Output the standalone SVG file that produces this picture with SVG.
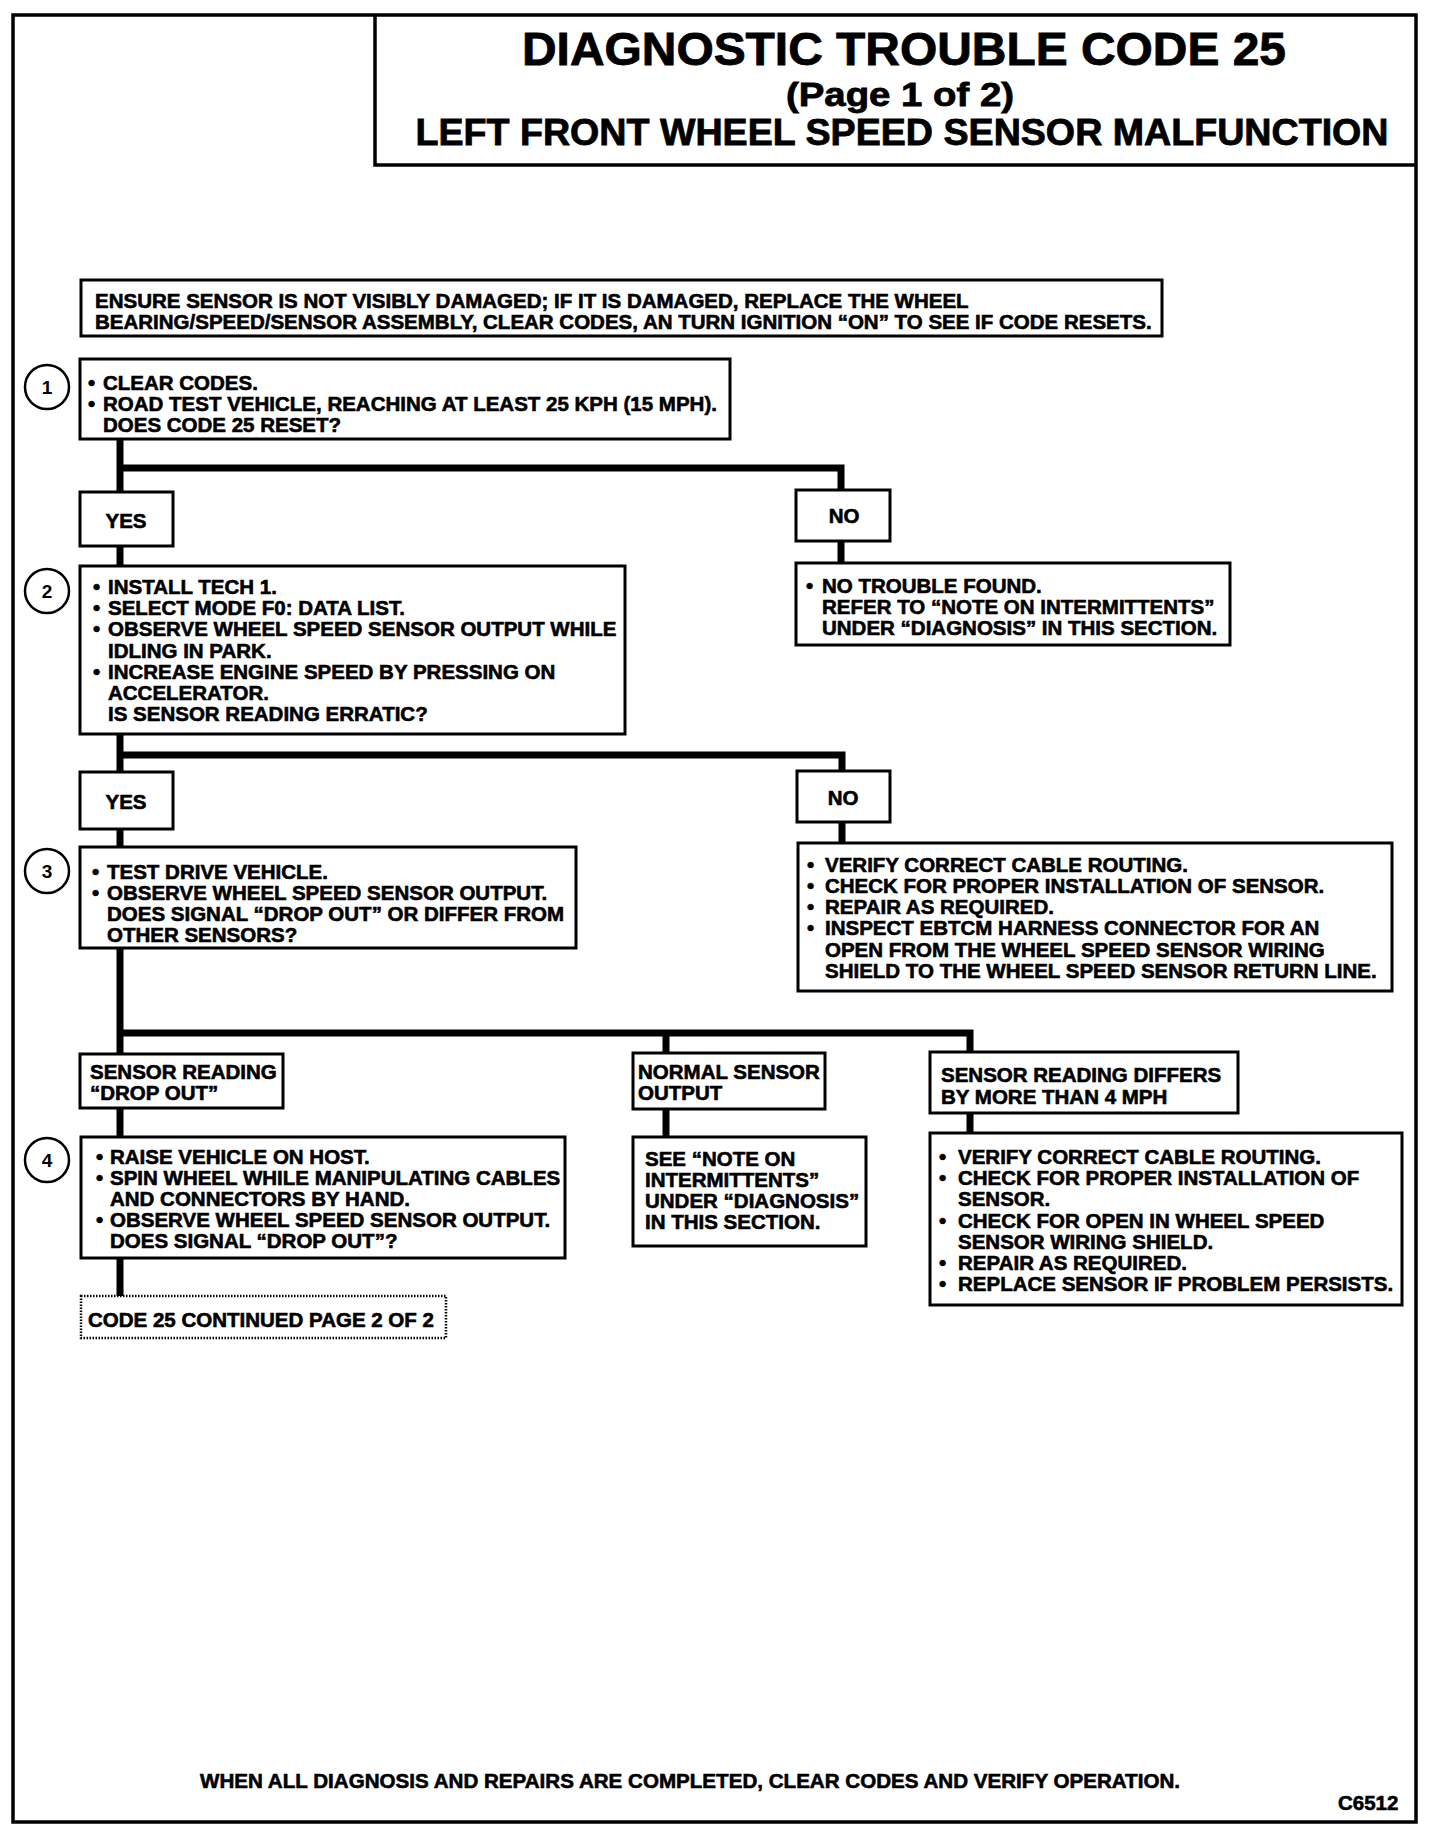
<svg xmlns="http://www.w3.org/2000/svg" width="1456" height="1844" viewBox="0 0 1456 1844">
<style>
.bg{fill:#fff}
.box{fill:#fff;stroke:#000;stroke-width:3}
.dot{fill:#fff;stroke:#000;stroke-width:2.5;stroke-dasharray:1.5 1.5}
.circ{fill:#fff;stroke:#000;stroke-width:2.5}
.conn{fill:none;stroke:#000;stroke-width:7;stroke-linejoin:miter;stroke-linecap:butt}
.frame{fill:none;stroke:#000;stroke-width:3.5}
.t{font-family:"Liberation Sans",Arial,sans-serif;font-weight:bold;font-size:20.5px;fill:#000;stroke:#000;stroke-width:0.6}
.num{font-family:"Liberation Sans",Arial,sans-serif;font-weight:bold;font-size:19px;fill:#000;text-anchor:middle}
.h{font-family:"Liberation Sans",Arial,sans-serif;font-weight:bold;fill:#000;text-anchor:middle;stroke:#000;stroke-width:0.8}
</style>
<rect class="bg" x="0" y="0" width="1456" height="1844"/>
<g id="frame">
<rect class="frame" x="13" y="15" width="1403" height="1807"/>
<path class="frame" d="M375 15 V165 H1416"/>
</g>
<g id="title">
<text class="h" x="904" y="65" font-size="46" textLength="764" lengthAdjust="spacingAndGlyphs">DIAGNOSTIC TROUBLE CODE 25</text>
<text class="h" x="900" y="106" font-size="34" textLength="228" lengthAdjust="spacingAndGlyphs">(Page 1 of 2)</text>
<text class="h" x="902" y="145" font-size="37" textLength="973" lengthAdjust="spacingAndGlyphs">LEFT FRONT WHEEL SPEED SENSOR MALFUNCTION</text>
</g>
<g id="connectors">
<path class="conn" d="M120 440 V492"/>
<path class="conn" d="M120 468 H841 V490"/>
<path class="conn" d="M120 546 V566"/>
<path class="conn" d="M841 541 V563"/>
<path class="conn" d="M120 734 V772"/>
<path class="conn" d="M120 755 H842 V771"/>
<path class="conn" d="M120 829 V847"/>
<path class="conn" d="M842 822 V843"/>
<path class="conn" d="M120 948 V1054"/>
<path class="conn" d="M120 1033 H970 V1052"/>
<path class="conn" d="M666 1033 V1053"/>
<path class="conn" d="M120 1108 V1137"/>
<path class="conn" d="M666 1109 V1137"/>
<path class="conn" d="M970 1113 V1133"/>
<path class="conn" d="M120 1258 V1296"/>
</g>
<g id="ensure">
<rect class="box" x="81" y="280" width="1081" height="56"/>
<text class="t" x="95" y="308">ENSURE SENSOR IS NOT VISIBLY DAMAGED; IF IT IS DAMAGED, REPLACE THE WHEEL</text>
<text class="t" x="95" y="329">BEARING/SPEED/SENSOR ASSEMBLY, CLEAR CODES, AN TURN IGNITION “ON” TO SEE IF CODE RESETS.</text>
</g>
<g id="step1">
<circle class="circ" cx="47" cy="387" r="22"/>
<text class="num" x="47" y="394">1</text>
<rect class="box" x="80" y="359" width="650" height="80"/>
<text class="t" x="88" y="390">•<tspan x="103">CLEAR CODES.</tspan></text>
<text class="t" x="88" y="411">•<tspan x="103">ROAD TEST VEHICLE, REACHING AT LEAST 25 KPH (15 MPH).</tspan></text>
<text class="t" x="103" y="432">DOES CODE 25 RESET?</text>
</g>
<g id="yes1">
<rect class="box" x="80" y="492" width="93" height="54"/>
<text class="t" x="126" y="528" text-anchor="middle">YES</text>
</g>
<g id="no1">
<rect class="box" x="796" y="490" width="94" height="51"/>
<text class="t" x="844" y="523" text-anchor="middle">NO</text>
</g>
<g id="notrouble">
<rect class="box" x="796" y="563" width="434" height="82"/>
<text class="t" x="806" y="593">•<tspan x="822">NO TROUBLE FOUND.</tspan></text>
<text class="t" x="822" y="614">REFER TO “NOTE ON INTERMITTENTS”</text>
<text class="t" x="822" y="635">UNDER “DIAGNOSIS” IN THIS SECTION.</text>
</g>
<g id="step2">
<circle class="circ" cx="47" cy="591" r="22"/>
<text class="num" x="47" y="598">2</text>
<rect class="box" x="80" y="566" width="545" height="168"/>
<text class="t" x="93" y="594">•<tspan x="108">INSTALL TECH 1.</tspan></text>
<text class="t" x="93" y="615">•<tspan x="108">SELECT MODE F0: DATA LIST.</tspan></text>
<text class="t" x="93" y="636">•<tspan x="108">OBSERVE WHEEL SPEED SENSOR OUTPUT WHILE</tspan></text>
<text class="t" x="108" y="658">IDLING IN PARK.</text>
<text class="t" x="93" y="679">•<tspan x="108">INCREASE ENGINE SPEED BY PRESSING ON</tspan></text>
<text class="t" x="108" y="700">ACCELERATOR.</text>
<text class="t" x="108" y="721">IS SENSOR READING ERRATIC?</text>
</g>
<g id="yes2">
<rect class="box" x="80" y="772" width="93" height="57"/>
<text class="t" x="126" y="809" text-anchor="middle">YES</text>
</g>
<g id="no2">
<rect class="box" x="797" y="771" width="93" height="51"/>
<text class="t" x="843" y="805" text-anchor="middle">NO</text>
</g>
<g id="step3">
<circle class="circ" cx="47" cy="871" r="22"/>
<text class="num" x="47" y="878">3</text>
<rect class="box" x="80" y="847" width="496" height="101"/>
<text class="t" x="92" y="879">•<tspan x="107">TEST DRIVE VEHICLE.</tspan></text>
<text class="t" x="92" y="900">•<tspan x="107">OBSERVE WHEEL SPEED SENSOR OUTPUT.</tspan></text>
<text class="t" x="107" y="921">DOES SIGNAL “DROP OUT” OR DIFFER FROM</text>
<text class="t" x="107" y="942">OTHER SENSORS?</text>
</g>
<g id="cablecheck">
<rect class="box" x="798" y="843" width="594" height="148"/>
<text class="t" x="807" y="872">•<tspan x="825">VERIFY CORRECT CABLE ROUTING.</tspan></text>
<text class="t" x="807" y="893">•<tspan x="825">CHECK FOR PROPER INSTALLATION OF SENSOR.</tspan></text>
<text class="t" x="807" y="914">•<tspan x="825">REPAIR AS REQUIRED.</tspan></text>
<text class="t" x="807" y="935">•<tspan x="825">INSPECT EBTCM HARNESS CONNECTOR FOR AN</tspan></text>
<text class="t" x="825" y="957">OPEN FROM THE WHEEL SPEED SENSOR WIRING</text>
<text class="t" x="825" y="978">SHIELD TO THE WHEEL SPEED SENSOR RETURN LINE.</text>
</g>
<g id="dropout">
<rect class="box" x="80" y="1054" width="203" height="54"/>
<text class="t" x="90" y="1079">SENSOR READING</text>
<text class="t" x="90" y="1100">“DROP OUT”</text>
</g>
<g id="normal">
<rect class="box" x="633" y="1053" width="192" height="56"/>
<text class="t" x="638" y="1079">NORMAL SENSOR</text>
<text class="t" x="638" y="1100">OUTPUT</text>
</g>
<g id="differs">
<rect class="box" x="930" y="1052" width="308" height="61"/>
<text class="t" x="941" y="1082">SENSOR READING DIFFERS</text>
<text class="t" x="941" y="1104">BY MORE THAN 4 MPH</text>
</g>
<g id="step4">
<circle class="circ" cx="47" cy="1160" r="22"/>
<text class="num" x="47" y="1167">4</text>
<rect class="box" x="81" y="1137" width="484" height="121"/>
<text class="t" x="96" y="1164">•<tspan x="110">RAISE VEHICLE ON HOST.</tspan></text>
<text class="t" x="96" y="1185">•<tspan x="110">SPIN WHEEL WHILE MANIPULATING CABLES</tspan></text>
<text class="t" x="110" y="1206">AND CONNECTORS BY HAND.</text>
<text class="t" x="96" y="1227">•<tspan x="110">OBSERVE WHEEL SPEED SENSOR OUTPUT.</tspan></text>
<text class="t" x="110" y="1248">DOES SIGNAL “DROP OUT”?</text>
</g>
<g id="seenote">
<rect class="box" x="633" y="1137" width="233" height="109"/>
<text class="t" x="645" y="1166">SEE “NOTE ON</text>
<text class="t" x="645" y="1187">INTERMITTENTS”</text>
<text class="t" x="645" y="1208">UNDER “DIAGNOSIS”</text>
<text class="t" x="645" y="1229">IN THIS SECTION.</text>
</g>
<g id="sensorfix">
<rect class="box" x="930" y="1133" width="472" height="172"/>
<text class="t" x="939" y="1164">•<tspan x="958">VERIFY CORRECT CABLE ROUTING.</tspan></text>
<text class="t" x="939" y="1185">•<tspan x="958">CHECK FOR PROPER INSTALLATION OF</tspan></text>
<text class="t" x="958" y="1206">SENSOR.</text>
<text class="t" x="939" y="1228">•<tspan x="958">CHECK FOR OPEN IN WHEEL SPEED</tspan></text>
<text class="t" x="958" y="1249">SENSOR WIRING SHIELD.</text>
<text class="t" x="939" y="1270">•<tspan x="958">REPAIR AS REQUIRED.</tspan></text>
<text class="t" x="939" y="1291">•<tspan x="958">REPLACE SENSOR IF PROBLEM PERSISTS.</tspan></text>
</g>
<g id="continued">
<rect class="dot" x="81" y="1296" width="365" height="42"/>
<text class="t" x="88" y="1327">CODE 25 CONTINUED PAGE 2 OF 2</text>
</g>
<g id="footer">
<text class="t" x="200" y="1788" font-size="19.5" textLength="980" lengthAdjust="spacingAndGlyphs">WHEN ALL DIAGNOSIS AND REPAIRS ARE COMPLETED, CLEAR CODES AND VERIFY OPERATION.</text>
<text class="t" x="1338" y="1810" font-size="20">C6512</text>
</g>
</svg>
